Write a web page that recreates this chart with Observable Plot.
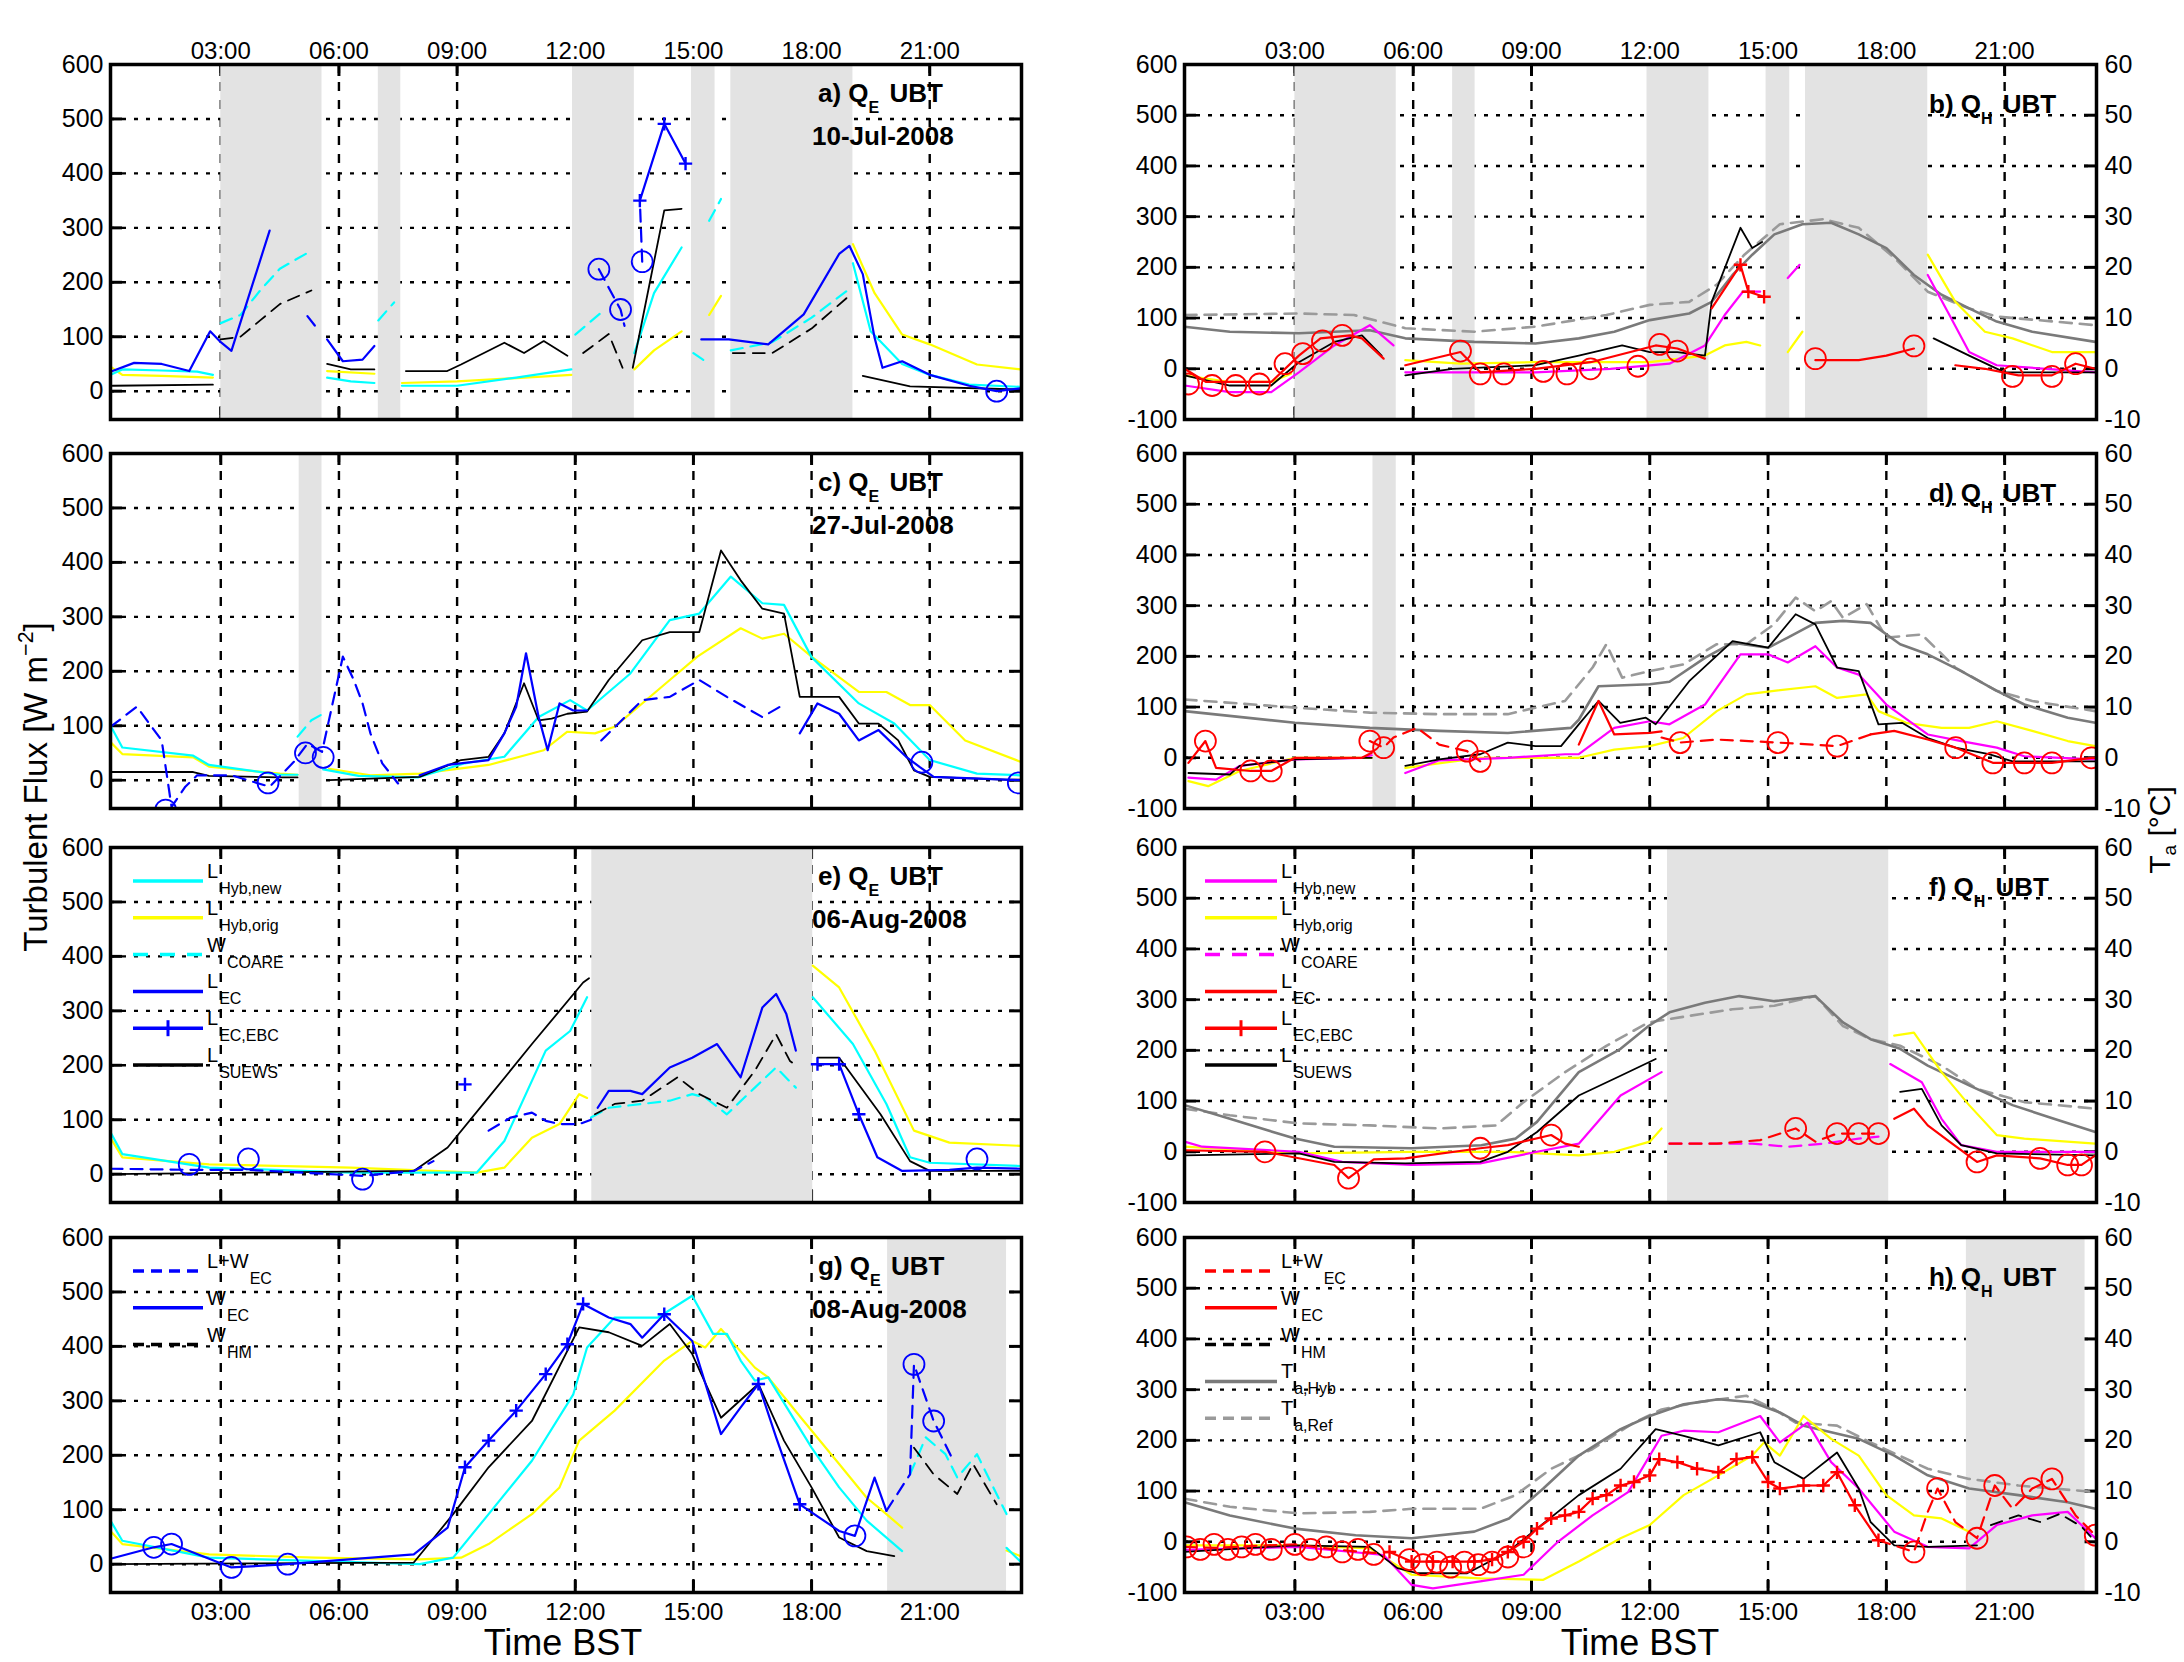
<!DOCTYPE html>
<html><head><meta charset="utf-8">
<script src="https://cdn.jsdelivr.net/npm/d3@7"></script>
<script src="https://cdn.jsdelivr.net/npm/@observablehq/plot@0.6"></script>
<style>
html,body{margin:0;padding:0;background:#fff;}
#root{position:relative;width:2184px;height:1662px;overflow:hidden;background:#fff;}
.panel{position:absolute;}
</style></head>
<body><div id="root"></div>
<script>
// ---------- tick labels / categories ----------
const HOURS = [3,6,9,12,15,18,21];
const HOUR_LABELS = ["03:00","06:00","09:00","12:00","15:00","18:00","21:00"];
const FLUX_TICKS_L = [0,100,200,300,400,500,600];
const FLUX_TICKS_R = [-100,0,100,200,300,400,500,600];
const TEMP_TICKS = [-10,0,10,20,30,40,50,60];
const DATES = ["10-Jul-2008","27-Jul-2008","06-Aug-2008","08-Aug-2008"];

// ---------- panel a (Q_E, 10-Jul-2008) ----------
const aShade = [[3.0,5.57],[7.0,7.57],[11.93,13.5],[14.95,15.55],[15.95,19.05]];
const aLhybNew = [[0.2,30],[0.5,40],[1.5,38],[2.4,36],[2.8,30],[3,null],[5.7,25],[6.3,18],[6.9,15],[7.2,null],[7.6,10],[9,10],[10.5,25],[11.9,40],[12.5,null],[13.5,70],[14,180],[14.7,264],[15,null],[19.05,235],[19.5,110],[20.3,50],[21,30],[22,12],[23.3,8]];
const aLhybOrig = [[0.2,45],[0.5,30],[1.5,28],[2.8,25],[3,null],[5.7,37],[6.9,32],[7.2,null],[7.6,15],[9,18],[10.5,24],[11.9,30],[12.5,null],[13.5,40],[14,75],[14.7,110],[15,null],[15.4,140],[15.7,175],[16,null],[19.05,270],[19.6,180],[20.3,104],[21,86],[22.2,49],[23.3,40]];
const aWcoare = [[3.0,125],[3.5,140],[4.0,185],[4.5,225],[5.3,258],[5.6,null],[7.0,130],[7.4,163],[7.6,null],[12.0,104],[12.7,147],[12.9,null],[15.0,70],[15.3,55],[15.35,null],[15.4,313],[15.7,353],[15.8,null],[15.95,75],[17,90],[18,135],[19,190]];
const aLsuews = [[0.25,10],[2.8,12],[3,null],[5.7,50],[6.3,40],[6.9,40],[7.2,null],[7.7,37],[8.75,37],[9.1,49],[10.2,89],[10.7,70],[11.2,92],[11.8,65],[12.2,null],[13.46,43],[14.26,332],[14.7,335],[15,null],[19.3,28],[20.5,9],[23.3,3]];
const aWhm = [[3.0,95],[3.5,100],[4.0,130],[4.5,160],[5.3,185],[5.6,null],[12.2,70],[12.85,105],[13.2,43],[13.4,null],[16.0,70],[17,70],[18,115],[19,178]];
const aLec = [[0.25,37],[0.8,52],[1.5,50],[2.2,37],[2.73,110],[3.0,90],[3.27,74],[4.24,295],[4.4,null],[5.7,95],[6.1,55],[6.6,58],[6.9,83],[7.1,null],[15.2,95],[15.9,95],[16.9,86],[17.8,141],[18.7,252],[18.96,267],[19.3,215],[19.6,98],[19.8,43],[20.3,55],[21,30],[22,10],[22.7,0],[23.3,5]];
const aLWec = [[5.2,138],[5.5,110],[5.6,null],[12.6,224],[12.85,190],[13.15,150],[13.25,120],[13.4,null],[13.7,238],[13.64,350]];
const aLecEbc = [[13.64,350],[14.26,491],[14.8,418]];
const aEcCircles = [[12.6,224],[13.15,150],[13.7,238],[22.7,0]];

// ---------- panel b (Q_H, 10-Jul-2008) ----------
const bShade = aShade;
const bThyb = [[0.2,83],[1.35,73],[3.1,70],[4.9,76],[5.8,60],[7.55,53],[9.1,50],[10.2,60],[11.1,73],[12.0,96],[13.0,109],[13.57,132],[14.1,185],[14.6,225],[15.16,265],[15.87,285],[16.6,288],[17.3,265],[18.0,238],[18.7,185],[19.4,146],[20.1,119],[20.8,93],[21.7,73],[23.3,53]];
const bTref = [[0.2,106],[3.1,109],[4.5,106],[5.8,80],[7.55,73],[9.1,83],[10.9,106],[12.0,126],[13.0,132],[13.7,166],[14.4,225],[15.3,285],[16.4,295],[17.3,278],[18.2,219],[19.05,152],[20.1,119],[20.8,103],[23.3,86]];
const bLsuews = [[0.2,-13],[1.35,-33],[2.4,-33],[3.1,13],[4.0,53],[4.7,66],[5.2,26],[5.5,null],[5.8,-13],[7.0,0],[9.1,7],[10.2,26],[11.3,46],[12.0,33],[12.7,33],[13.4,26],[13.57,132],[14.3,278],[14.6,238],[14.85,250],[15,null],[19.2,60],[20.1,26],[21.0,-7],[23.3,-7]];
const bLhybNew = [[0.2,-33],[1.35,-46],[2.4,-46],[3.1,-7],[4.0,46],[4.9,86],[5.5,46],[5.6,null],[5.8,-7],[7.5,-7],[9.1,-7],[11,0],[12.5,10],[13.4,46],[13.9,106],[14.36,152],[14.8,152],[15,null],[15.5,179],[15.8,205],[16,null],[19.05,185],[19.6,106],[20.1,33],[20.8,7],[23.3,-7]];
const bLhybOrig = [[0.2,-13],[1.35,-26],[2.4,-26],[2.9,-10],[3,null],[5.8,17],[7.2,10],[9.1,13],[12.0,13],[13.4,26],[13.9,46],[14.45,53],[14.8,46],[15,null],[15.5,33],[15.87,73],[16,null],[19.05,225],[19.75,132],[20.5,73],[21.2,60],[22.2,33],[23.3,33]];
const bLec = [[0.2,0],[0.75,-26],[2.4,-26],[3.1,26],[3.65,60],[4.4,66],[4.7,60],[5.25,20],[5.4,null],[5.8,7],[7.2,33],[7.7,-7],[9.1,0],[10.5,13],[12.15,46],[12.7,40],[13.4,20],[13.5,null],[13.57,119],[14.3,205],[14.5,152],[14.9,142],[15,null],[16.2,17],[17.3,17],[18.0,26],[18.7,40],[19,null],[19.75,7],[20.5,0],[21.35,-13],[22.2,-13],[22.8,10],[23.3,0]];
const bPlus = [[14.3,205],[14.5,152],[14.9,142]];
const bEcCircles = [[0.3,-30],[0.9,-33],[1.5,-33],[2.1,-30],[2.75,10],[3.2,30],[3.7,55],[4.2,66],[7.2,35],[7.7,-10],[8.3,-10],[9.3,-5],[9.9,-10],[10.5,0],[11.7,5],[12.25,48],[12.7,35],[16.2,20],[18.7,45],[21.2,-15],[22.2,-15],[22.8,10]];

// ---------- panel c (Q_E, 27-Jul-2008) ----------
const cShade = [[4.99,5.57]];
const cLhybNew = [[0.2,100],[0.5,60],[2.3,45],[2.7,28],[4.5,10],[4.95,10],[5,null],[5.6,20],[6.5,8],[8,5],[9.2,31],[10.2,43],[11.07,116],[11.87,147],[12.3,128],[13.4,196],[14.4,294],[15.15,306],[15.95,374],[16.75,325],[17.3,322],[18,226],[19.2,141],[20.1,104],[21,37],[22.2,12],[23.3,9]];
const cWcoare = [[4.95,80],[5.3,110],[5.55,120]];
const cLhybOrig = [[0.2,70],[0.5,48],[2.3,42],[2.7,25],[4.5,12],[4.95,10],[5,null],[5.75,21],[6.8,9],[8.05,12],[9.8,28],[11.2,55],[11.8,89],[12.5,86],[13,98],[14.4,184],[15.1,227],[16.2,279],[16.75,260],[17.3,269],[18,227],[19.2,162],[19.9,162],[20.5,138],[21,138],[21.9,73],[23.3,34]];
const cLsuews = [[0.2,15],[2.3,15],[2.7,8],[4.5,5],[4.95,5],[5,null],[5.75,0],[8.05,6],[9.1,37],[9.8,43],[10.2,86],[10.7,178],[11.07,110],[11.4,113],[11.8,122],[12.3,126],[12.85,184],[13.7,257],[14.4,272],[15.15,272],[15.7,422],[16.2,367],[16.75,315],[17.3,306],[17.7,153],[18.7,153],[19.2,104],[19.7,104],[20.2,73],[20.6,18],[21,6],[23.3,0]];
const cLWec = [[0.2,98],[0.87,135],[1.5,73],[1.75,-49],[2.1,-12],[2.4,9],[3.27,9],[4.24,-12],[4.86,34],[5.2,67],[5.57,52],[6.1,227],[6.37,185],[6.6,141],[6.8,86],[7.1,31],[7.5,-6],[7.7,null],[12.66,73],[13.7,147],[14.4,153],[15.15,184],[15.85,153],[16.75,116],[17.2,135]];
const cLec = [[8.05,9],[8.76,28],[9.8,37],[10.2,86],[10.5,135],[10.75,233],[11.07,116],[11.3,55],[11.6,141],[11.95,128],[12.3,128],[12.5,null],[17.7,86],[18.15,141],[18.7,122],[19.2,73],[19.7,92],[20.4,43],[20.75,24],[21.1,6],[23.3,0]];
const cEcCircles = [[1.6,-55],[4.2,-5],[5.15,50],[5.6,42],[20.8,33],[23.25,-5]];

// ---------- panel d (Q_H, 27-Jul-2008) ----------
const dShade = [[4.98,5.57]];
const dThyb = [[0.2,92],[3.0,69],[4.9,59],[6.66,53],[8.4,49],[10.0,59],[10.2,75],[10.7,141],[12.0,145],[12.5,150],[13.4,197],[14.1,227],[15.0,217],[15.5,237],[16.2,266],[16.9,270],[17.6,266],[18.35,224],[19.05,204],[19.9,171],[20.8,132],[21.5,105],[22.6,79],[23.3,69]];
const dTref = [[0.2,115],[3.0,99],[4.9,89],[6.66,86],[8.4,86],[9.85,112],[10.55,178],[10.9,224],[11.3,158],[12.0,171],[12.85,184],[13.7,224],[14.45,224],[15.15,263],[15.7,316],[16.2,289],[16.6,309],[16.9,276],[17.5,303],[18.0,237],[18.9,243],[19.75,178],[20.8,132],[21.7,112],[23.3,92]];
const dLsuews = [[0.3,-30],[1.35,-33],[1.6,-16],[3.0,-3],[4.7,0],[4.95,0],[5,null],[5.8,-16],[6.66,-3],[7.7,7],[8.4,30],[9.1,23],[9.75,23],[10.2,66],[10.7,112],[11.25,69],[11.9,79],[12.15,66],[13.0,151],[14.1,230],[15.0,217],[15.7,283],[16.2,263],[16.75,178],[17.3,171],[17.8,66],[18.4,69],[19.05,39],[19.75,20],[20.6,7],[21.2,-7],[23.3,-7]];
const dLhybNew = [[0.3,-39],[1.0,-43],[1.6,-16],[3.0,-3],[4.7,0],[4.95,5],[5,null],[5.8,-30],[6.66,-5],[8.4,0],[9.85,7],[10.2,7],[11.1,59],[12.0,72],[12.5,66],[13.4,105],[14.3,204],[15.0,204],[15.5,188],[16.2,220],[16.75,178],[17.3,164],[18.0,105],[19.05,46],[19.9,33],[20.8,20],[21.5,3],[23.3,-3]];
const dLhybOrig = [[0.3,-46],[0.8,-56],[1.6,-26],[3.0,0],[4.95,0],[5,null],[5.8,-20],[7.7,0],[10.2,0],[11.1,16],[12.0,23],[12.85,39],[13.7,92],[14.45,125],[15.15,132],[16.2,141],[16.75,118],[17.5,125],[17.8,92],[18.5,69],[19.4,59],[20.1,59],[20.8,72],[21.7,53],[22.6,33],[23.3,23]];
const dLec = [[0.3,-10],[0.73,33],[1.0,-20],[1.88,-26],[2.4,-26],[3.0,0],[4.7,0],[4.95,10],[5,null],[10.2,26],[10.7,112],[11.1,46],[12.0,49],[12.3,52],[12.5,null],[17.6,46],[18.2,53],[19.05,36],[19.76,20],[20.7,-10],[21.5,-10],[22.2,-10],[23.2,0],[23.3,0]];
const dLWec = [[4.9,33],[5.25,20],[5.5,40],[6.1,59],[6.66,26],[7.37,13],[7.7,-7],[8.4,null],[12.3,40],[12.77,30],[13.7,36],[15.25,30],[16.75,23],[17.6,46]];
const dEcCircles = [[0.73,33],[1.88,-26],[2.4,-26],[4.9,33],[5.25,20],[7.37,13],[7.7,-7],[12.77,30],[15.25,30],[16.75,23],[19.76,20],[20.7,-10],[21.5,-10],[22.2,-10],[23.2,0]];

// ---------- panel e (Q_E, 06-Aug-2008) ----------
const eShade = [[12.42,18.03]];
const eLhybNew = [[0.2,77],[0.5,37],[2.7,12],[6.3,3],[9.5,3],[10.2,61],[11.25,227],[11.87,263],[12.3,325],[12.4,null],[18.03,325],[19.05,239],[19.9,129],[20.5,31],[21,21],[23.3,15]];
const eWcoare = [[12.4,104],[12.85,122],[13.7,129],[14.4,135],[14.97,147],[15.3,141],[15.85,110],[16.56,159],[17.1,196],[17.6,159]];
const eLhybOrig = [[0.2,67],[0.5,31],[2.7,18],[6.3,12],[9.5,3],[10.2,12],[10.9,67],[11.6,92],[12.1,147],[12.3,140],[12.4,null],[18.03,383],[18.7,343],[19.6,227],[20.6,80],[21.5,58],[23.3,52]];
const eLsuews = [[0.2,0],[7.9,6],[8.76,49],[9.8,141],[10.9,239],[12.2,352],[12.35,360],[12.4,null],[18.15,214],[18.7,214],[19.75,110],[20.5,24],[21,6],[23.3,6]];
const eWhm = [[12.5,110],[13.0,129],[13.7,135],[14.6,178],[15.15,147],[15.85,122],[16.56,190],[17.1,257],[17.45,208],[17.6,200]];
const eLec = [[12.57,122],[12.85,153],[13.4,153],[13.7,147],[14.4,196],[14.97,214],[15.6,239],[16.2,178],[16.75,306],[17.1,331],[17.36,294],[17.6,227],[17.7,null],[19.2,110],[19.67,31],[20.3,6],[21.5,8],[22.2,12],[23.3,10]];
const eLWec = [[0.2,10],[2.2,8],[3.7,8],[6.6,-3],[7.9,6],[8.4,24],[8.6,null],[9.8,80],[10.36,104],[10.9,113],[11.25,98],[11.6,92],[12.1,92],[12.4,100]];
const eLecEbc = [[9.2,165],[9.25,null],[18.15,202],[18.7,202],[19.2,110]];
const eEcCircles = [[2.2,18],[3.7,28],[6.6,-9],[22.2,28]];

// ---------- panel f (Q_H, 06-Aug-2008) ----------
const fShade = [[12.45,18.06]];
const fThyb = [[0.2,92],[1.35,65],[3.0,26],[4.0,10],[5.96,7],[7.73,13],[8.6,26],[9.14,59],[10.2,157],[11.26,203],[11.97,248],[12.5,275],[13.4,294],[14.27,307],[15.16,297],[16.2,307],[16.9,255],[17.6,222],[18.35,203],[19.05,170],[20.1,131],[21.2,92],[22.25,65],[23.3,39]];
const fTref = [[0.2,85],[1.35,72],[3.1,56],[4.9,52],[6.66,46],[8.1,52],[8.8,98],[9.85,157],[10.9,209],[11.97,255],[13.0,268],[14.1,281],[15.16,288],[16.2,307],[16.9,248],[17.6,222],[18.35,209],[19.4,170],[20.3,124],[21.5,98],[23.3,85]];
const fLsuews = [[0.2,-7],[3.1,-3],[4.0,-20],[5.8,-23],[7.7,-20],[8.4,0],[9.14,39],[10.2,111],[11.26,150],[12.15,183],[12.3,null],[18.35,118],[18.9,124],[19.4,52],[19.9,13],[20.8,-3],[23.3,-7]];
const fLhybNew = [[0.2,20],[0.65,10],[3.1,0],[4.2,-20],[5.96,-26],[7.7,-23],[9.14,0],[10.2,16],[11.26,111],[12.3,157],[12.4,null],[18.1,173],[18.9,137],[19.4,65],[19.9,13],[20.8,0],[23.3,0]];
const fLhybOrig = [[0.2,10],[3.1,-3],[5.96,0],[8.4,0],[10.2,-7],[11.1,0],[12.0,20],[12.3,46],[12.4,null],[18.2,229],[18.7,235],[19.4,157],[20.1,92],[20.8,33],[21.5,26],[23.3,16]];
const fWcoare = [[12.5,16],[14.6,16],[15.5,10],[16.4,16],[17.3,26],[17.8,30]];
const fLec = [[0.2,3],[2.24,0],[4.0,-26],[4.36,-52],[5.0,-15],[5.8,-13],[7.7,7],[8.4,13],[9.5,33],[9.85,16],[10.2,10],[10.5,null],[18.2,65],[18.7,85],[19.05,52],[19.6,20],[20.3,-20],[20.8,-7],[21.9,-13],[22.6,-26],[22.95,-26],[23.3,-7]];
const fLWec = [[12.5,16],[13.7,16],[14.8,23],[15.7,46],[16.2,20],[16.75,36],[17.3,36],[17.8,36]];
const fEcCircles = [[2.24,0],[4.36,-52],[7.7,7],[9.5,33],[15.7,46],[16.75,36],[17.3,36],[17.8,36],[20.3,-20],[21.9,-13],[22.6,-26],[22.95,-26]];

// ---------- panel g (Q_E, 08-Aug-2008) ----------
const gShade = [[19.93,22.95]];
const gLhybOrig = [[0.2,61],[0.5,37],[2.7,18],[5.4,12],[8.05,9],[9.1,12],[9.8,37],[10.9,92],[11.6,141],[12.1,227],[13.0,282],[14.26,374],[14.97,410],[15.3,398],[15.7,432],[16.56,361],[16.9,343],[17.8,263],[18.7,184],[19.4,122],[19.9,92],[20.3,67],[20.4,null],[22.95,25],[23.3,15]];
const gLhybNew = [[0.2,80],[0.5,43],[2.7,12],[8.05,0],[8.9,12],[9.8,92],[10.9,190],[11.95,312],[12.3,398],[13.0,453],[14.1,453],[14.97,493],[15.5,423],[15.85,423],[16.2,374],[16.56,337],[16.9,343],[18.0,214],[18.7,141],[19.4,80],[20.3,24],[20.4,null],[22.95,30],[23.3,5]];
const gWcoare = [[20.5,165],[20.9,233],[21.4,202],[21.7,159],[22.2,202],[22.95,92]];
const gLsuews = [[0.2,0],[7.9,3],[8.9,92],[9.8,178],[10.9,263],[12.1,435],[12.85,426],[13.7,401],[14.4,441],[14.97,386],[15.7,269],[16.65,331],[17.3,227],[18.0,141],[18.7,49],[19.4,24],[20.1,15]];
const gWhm = [[20.6,214],[21.1,165],[21.7,129],[22.1,184],[22.7,110]];
const gWec = [[0.2,10],[1.3,31],[1.75,37],[3.27,-6],[4.7,0],[7.9,18],[8.76,67],[9.2,178],[9.8,227],[10.5,282],[11.25,349],[11.8,404],[12.2,478],[12.85,453],[13.4,441],[13.7,416],[14.26,459],[14.97,410],[15.7,239],[16.2,288],[16.65,331],[17.1,233],[17.7,110],[18.7,61],[19.1,52],[19.6,159],[19.9,98]];
const gLWec = [[19.9,98],[20.5,165],[20.6,367],[21.1,263],[21.6,190]];
const gPlus = [[9.2,178],[9.8,227],[10.5,282],[11.25,349],[11.8,404],[12.2,478],[14.26,459],[16.65,331],[17.7,110]];
const gEcCircles = [[1.3,31],[1.75,37],[3.27,-6],[4.7,0],[19.1,52],[20.6,367],[21.1,263]];

// ---------- panel h (Q_H, 08-Aug-2008) ----------
const hShade = [[20.03,23.04]];
const hThyb = [[0.2,78],[1.35,52],[3.0,26],[4.54,13],[5.96,7],[7.55,20],[8.43,46],[9.3,105],[10.2,170],[11.26,222],[12.0,248],[12.86,271],[13.74,281],[14.6,275],[15.3,255],[15.9,229],[16.6,216],[17.3,203],[18.2,170],[19.05,131],[20.1,105],[21.35,92],[22.6,78],[23.3,65]];
const hTref = [[0.2,85],[1.35,69],[3.1,56],[4.9,59],[5.96,65],[7.7,65],[8.6,92],[9.5,144],[10.55,183],[11.6,235],[12.3,261],[13.2,275],[14.45,288],[15.16,261],[15.7,235],[16.75,229],[17.6,196],[19.05,144],[20.1,124],[21.35,111],[23.3,98]];
const hLsuews = [[0.2,-20],[3.0,-7],[4.9,-10],[5.6,-52],[6.1,-62],[7.37,-62],[8.4,-20],[9.14,26],[10.2,92],[11.26,144],[12.15,222],[12.86,209],[13.74,190],[14.8,216],[15.16,157],[15.9,124],[16.75,176],[17.3,105],[17.6,39],[18.2,-7],[19.05,-10],[20.3,-7]];
const hWhm = [[20.65,33],[21.35,52],[21.9,39],[22.4,55],[22.95,30],[23.3,0]];
const hLhybNew = [[0.2,-16],[3.1,-10],[5.25,-26],[5.96,-85],[6.5,-92],[7.7,-78],[8.8,-65],[9.67,0],[10.55,52],[11.45,98],[12.3,209],[12.86,219],[13.74,216],[14.8,248],[15.3,196],[16.0,235],[16.6,157],[17.3,105],[18.2,20],[19.05,-10],[20.1,-13],[20.8,33],[21.7,52],[22.6,59],[23.3,7]];
const hLhybOrig = [[0.2,-7],[3.1,-7],[4.9,-13],[5.96,-65],[7.7,-72],[9.3,-75],[10.2,-39],[11.26,7],[12.0,33],[12.86,92],[13.74,131],[14.6,170],[14.9,196],[15.3,170],[15.9,248],[16.6,203],[17.3,170],[18.0,92],[18.7,52],[19.4,46],[20.1,20]];
const hLecEbc = [[5.4,-20],[5.96,-39],[6.5,-39],[7.0,-39],[7.55,-39],[8.0,-35],[8.4,-20],[8.8,0],[9.14,26],[9.5,46],[9.85,52],[10.2,59],[10.55,85],[10.9,92],[11.26,111],[11.6,118],[12.0,131],[12.24,163],[12.7,157],[13.2,144],[13.74,137],[14.2,163],[14.6,167],[15.0,118],[15.3,105],[15.9,111],[16.4,111],[16.75,137],[17.2,72],[17.8,3]];
const hLWec = [[0.2,-10],[1.0,-12],[2.0,-8],[3.0,-5],[4.0,-15],[5.0,-22],[5.4,-20],[5.5,null],[17.8,3],[18.7,-20],[19.05,59],[19.3,105],[19.75,39],[20.3,7],[20.75,111],[21.2,65],[21.7,105],[22.2,124],[22.8,52],[23.3,13]];
const hEcCircles = [[0.25,-10],[0.6,-15],[0.95,-5],[1.3,-15],[1.65,-10],[2.0,-5],[2.4,-15],[3.0,-5],[3.4,-15],[3.8,-10],[4.2,-20],[4.6,-15],[5.0,-25],[5.9,-35],[6.25,-45],[6.6,-40],[6.95,-50],[7.3,-40],[7.65,-45],[8.0,-40],[8.4,-30],[8.8,-10],[18.7,-20],[19.3,105],[20.3,7],[20.75,111],[21.7,105],[22.2,124],[23.3,13]];

// ---------- styling ----------
const FONT = '"Liberation Sans", Arial, Helvetica, sans-serif';
const COL = {cyan:"#00ffff", yellow:"#ffff00", blue:"#0000ff", black:"#000000", magenta:"#ff00ff", red:"#ff0000", grayS:"#7a7a7a", grayD:"#9a9a9a"};
const DASH = "12,8";
const ROW_TOPS = [64, 453, 847, 1237];
const PANEL_H = 355;
const X_DOMAIN = [0.2, 23.33];

const PLUS = {draw(ctx, size) { const r = Math.sqrt(size) / 2.4; ctx.moveTo(-r, 0); ctx.lineTo(r, 0); ctx.moveTo(0, -r); ctx.lineTo(0, r); }};

const L = (data, stroke, o = {}) => ({data, stroke, ...o});

const panels = [
  {id:"a", side:"left", row:0, shade:aShade, xAxis:"top", series:[
    L(aLhybOrig, COL.yellow), L(aLhybNew, COL.cyan), L(aWcoare, COL.cyan, {dash:DASH}),
    L(aWhm, COL.black, {dash:DASH, width:1.8}), L(aLsuews, COL.black, {width:1.8}),
    L(aLec, COL.blue), L(aLWec, COL.blue, {dash:DASH}), L(aLecEbc, COL.blue, {plus:aLecEbc}),
    L(aEcCircles, COL.blue, {noLine:true, circles:aEcCircles})]},
  {id:"b", side:"right", row:0, shade:bShade, xAxis:"top", series:[
    L(bTref, COL.grayD, {dash:DASH, width:2.6}), L(bThyb, COL.grayS, {width:2.6}),
    L(bLhybOrig, COL.yellow), L(bLhybNew, COL.magenta), L(bLsuews, COL.black, {width:1.8}),
    L(bLec, COL.red, {plus:bPlus}), L(bEcCircles, COL.red, {noLine:true, circles:bEcCircles})]},
  {id:"c", side:"left", row:1, shade:cShade, series:[
    L(cLhybOrig, COL.yellow), L(cLhybNew, COL.cyan), L(cWcoare, COL.cyan, {dash:DASH}),
    L(cLsuews, COL.black, {width:1.8}), L(cLWec, COL.blue, {dash:DASH}), L(cLec, COL.blue),
    L(cEcCircles, COL.blue, {noLine:true, circles:cEcCircles})]},
  {id:"d", side:"right", row:1, shade:dShade, series:[
    L(dTref, COL.grayD, {dash:DASH, width:2.6}), L(dThyb, COL.grayS, {width:2.6}),
    L(dLhybOrig, COL.yellow), L(dLhybNew, COL.magenta), L(dLsuews, COL.black, {width:1.8}),
    L(dLec, COL.red), L(dLWec, COL.red, {dash:DASH}), L(dEcCircles, COL.red, {noLine:true, circles:dEcCircles})]},
  {id:"e", side:"left", row:2, shade:eShade, series:[
    L(eLhybOrig, COL.yellow), L(eLhybNew, COL.cyan), L(eWcoare, COL.cyan, {dash:DASH}),
    L(eLsuews, COL.black, {width:1.8}), L(eWhm, COL.black, {dash:DASH, width:1.8}),
    L(eLec, COL.blue), L(eLWec, COL.blue, {dash:DASH}), L(eLecEbc, COL.blue, {plus:eLecEbc.filter(d => d[1] != null)}),
    L(eEcCircles, COL.blue, {noLine:true, circles:eEcCircles})]},
  {id:"f", side:"right", row:2, shade:fShade, series:[
    L(fTref, COL.grayD, {dash:DASH, width:2.6}), L(fThyb, COL.grayS, {width:2.6}),
    L(fLhybOrig, COL.yellow), L(fLhybNew, COL.magenta), L(fWcoare, COL.magenta, {dash:DASH}),
    L(fLsuews, COL.black, {width:1.8}), L(fLec, COL.red), L(fLWec, COL.red, {dash:DASH}),
    L(fEcCircles, COL.red, {noLine:true, circles:fEcCircles})]},
  {id:"g", side:"left", row:3, shade:gShade, xAxis:"bottom", series:[
    L(gLhybOrig, COL.yellow), L(gLhybNew, COL.cyan), L(gWcoare, COL.cyan, {dash:DASH}),
    L(gLsuews, COL.black, {width:1.8}), L(gWhm, COL.black, {dash:DASH, width:1.8}),
    L(gWec, COL.blue, {plus:gPlus}), L(gLWec, COL.blue, {dash:DASH}),
    L(gEcCircles, COL.blue, {noLine:true, circles:gEcCircles})]},
  {id:"h", side:"right", row:3, shade:hShade, xAxis:"bottom", series:[
    L(hTref, COL.grayD, {dash:DASH, width:2.6}), L(hThyb, COL.grayS, {width:2.6}),
    L(hLhybOrig, COL.yellow), L(hLhybNew, COL.magenta), L(hLsuews, COL.black, {width:1.8}),
    L(hWhm, COL.black, {dash:DASH, width:1.8}), L(hLWec, COL.red, {dash:DASH}),
    L(hLecEbc, COL.red, {plus:hLecEbc}), L(hEcCircles, COL.red, {noLine:true, circles:hEcCircles})]}
];

const root = document.getElementById("root");

for (const p of panels) {
  const geo = p.side === "left" ? {left:0, width:1060, ml:110, mr:39} : {left:1100, width:1084, ml:84, mr:88};
  const mt = 64, mb = 72;
  const innerW = geo.width - geo.ml - geo.mr;
  const yTicks = p.side === "left" ? FLUX_TICKS_L : FLUX_TICKS_R;
  const yDomain = p.side === "left" ? [-52, 600] : [-100, 600];
  const X = d => d[0], Y = d => d[1];
  const marks = [
    Plot.gridY(yTicks, {stroke:"#000", strokeOpacity:1, strokeWidth:2.4, strokeDasharray:"4,8"}),
    Plot.gridX(HOURS, {stroke:"#000", strokeOpacity:1, strokeWidth:2.4, strokeDasharray:"9,9"}),
    Plot.tickY(yTicks, {y:d => d, stroke:"#000", strokeWidth:3, insetRight: innerW - 12}),
    Plot.tickY(yTicks, {y:d => d, stroke:"#000", strokeWidth:3, insetLeft: innerW - 12}),
    Plot.tickX(HOURS, {x:d => d, stroke:"#000", strokeWidth:3, insetBottom: PANEL_H - 12}),
    Plot.tickX(HOURS, {x:d => d, stroke:"#000", strokeWidth:3, insetTop: PANEL_H - 12}),
    Plot.rect(p.shade, {x1:d => d[0], x2:d => d[1], fill:"#e3e3e3"})
  ];
  for (const s of p.series) {
    if (!s.noLine) marks.push(Plot.line(s.data, {x:X, y:Y, stroke:s.stroke, strokeWidth:s.width || 2.2, strokeDasharray:s.dash, clip:true}));
    if (s.circles) marks.push(Plot.dot(s.circles, {x:X, y:Y, r:10.5, stroke:s.stroke, fill:"none", strokeWidth:1.8, clip:true}));
    if (s.plus) marks.push(Plot.dot(s.plus, {x:X, y:Y, r:9, symbol:PLUS, stroke:s.stroke, fill:"none", strokeWidth:2.4, clip:true}));
  }
  marks.push(Plot.frame({stroke:"#000", strokeWidth:3.5}));
  marks.push(Plot.axisY({ticks:yTicks, anchor:"left", tickSize:0, tickPadding:7, tickFormat:d => String(d), fontSize:25}));
  if (p.side === "right") {
    marks.push(Plot.axisY({ticks:yTicks, anchor:"right", tickSize:0, tickPadding:8, tickFormat:d => String(TEMP_TICKS[FLUX_TICKS_R.indexOf(d)]), fontSize:25}));
  }
  if (p.xAxis) {
    marks.push(Plot.axisX({ticks:HOURS, anchor:p.xAxis, tickSize:0, tickPadding:p.xAxis === "top" ? 6 : 10, tickFormat:h => HOUR_LABELS[HOURS.indexOf(h)], fontSize:24}));
  }
  const chart = Plot.plot({
    width: geo.width, height: mt + PANEL_H + mb,
    marginTop: mt, marginBottom: mb, marginLeft: geo.ml, marginRight: geo.mr,
    x: {domain: X_DOMAIN, axis: p.xAxis ? undefined : null},
    y: {domain: yDomain},
    style: {background:"transparent", overflow:"visible", fontFamily:FONT, fontSize:"25px", color:"#000", maxWidth:"none"},
    marks
  });
  const div = document.createElement("div");
  div.className = "panel";
  div.style.left = geo.left + "px";
  div.style.top = (ROW_TOPS[p.row] - mt) + "px";
  div.style.width = geo.width + "px";
  div.appendChild(chart);
  root.appendChild(div);
}

// ---------- overlay: panel labels, legends, axis titles ----------
const ov = d3.select("#root").append("svg")
  .attr("width", 2184).attr("height", 1662)
  .style("position", "absolute").style("left", 0).style("top", 0)
  .style("font-family", FONT).style("pointer-events", "none");

function rich(x, y, parts, opt) {
  const t = ov.append("text").attr("x", x).attr("y", y)
    .attr("font-size", opt.size).attr("font-weight", opt.weight || "normal")
    .attr("text-anchor", opt.anchor || "start").attr("fill", "#000").style("white-space", "pre");
  if (opt.rotate) t.attr("transform", `rotate(${opt.rotate},${x},${y})`);
  let shift = 0;
  for (const p of parts) {
    let target = 0, size = opt.size;
    if (p.sub) { target = opt.subDy ?? opt.size * 0.45; size = opt.subSize ?? opt.size * 0.7; }
    if (p.sup) { target = -opt.size * 0.42; size = opt.size * 0.65; }
    const ts = t.append("tspan").text(p.t).attr("font-size", size).attr("dy", target - shift);
    if (p.dx) ts.attr("dx", p.dx);
    shift = target;
  }
}

const LEFT_LABELS = [["a) Q","E"],["c) Q","E"],["e) Q","E"],["g) Q","E"]];
const RIGHT_LABELS = [["b) Q","H"],["d) Q","H"],["f) Q","H"],["h) Q","H"]];
ROW_TOPS.forEach((top, i) => {
  rich(818, top + 38, [{t:LEFT_LABELS[i][0]}, {t:LEFT_LABELS[i][1], sub:true}, {t:" UBT", dx:3}], {size:26, weight:"bold", subSize:16, subDy:11});
  rich(812, top + 81, [{t:DATES[i]}], {size:26, weight:"bold"});
  rich(1929, top + 49, [{t:RIGHT_LABELS[i][0]}, {t:RIGHT_LABELS[i][1], sub:true}, {t:" UBT", dx:3}], {size:26, weight:"bold", subSize:16, subDy:11});
});

const LEG_E = [
  {stroke:COL.cyan, main:"L", sub:"Hyb,new"}, {stroke:COL.yellow, main:"L", sub:"Hyb,orig"},
  {stroke:COL.cyan, dash:"15,12", main:"W", sub:"COARE"}, {stroke:COL.blue, main:"L", sub:"EC"},
  {stroke:COL.blue, plus:true, main:"L", sub:"EC,EBC"}, {stroke:COL.black, main:"L", sub:"SUEWS"}];
const LEG_F = [
  {stroke:COL.magenta, main:"L", sub:"Hyb,new"}, {stroke:COL.yellow, main:"L", sub:"Hyb,orig"},
  {stroke:COL.magenta, dash:"15,12", main:"W", sub:"COARE"}, {stroke:COL.red, main:"L", sub:"EC"},
  {stroke:COL.red, plus:true, main:"L", sub:"EC,EBC"}, {stroke:COL.black, main:"L", sub:"SUEWS"}];
const LEG_G = [
  {stroke:COL.blue, dash:"11,7", main:"L+W", sub:"EC"}, {stroke:COL.blue, main:"W", sub:"EC"},
  {stroke:COL.black, dash:"11,7", main:"W", sub:"HM"}];
const LEG_H = [
  {stroke:COL.red, dash:"11,7", main:"L+W", sub:"EC"}, {stroke:COL.red, main:"W", sub:"EC"},
  {stroke:COL.black, dash:"11,7", main:"W", sub:"HM"}, {stroke:COL.grayS, main:"T", sub:"a,Hyb"},
  {stroke:COL.grayD, dash:"11,7", main:"T", sub:"a,Ref"}];

function legend(entries, x0, x1, top) {
  entries.forEach((e, i) => {
    const y = top + 34 + i * 36.8;
    ov.append("line").attr("x1", x0).attr("x2", x1).attr("y1", y).attr("y2", y)
      .attr("stroke", e.stroke).attr("stroke-width", 3.5).attr("stroke-dasharray", e.dash || null);
    if (e.plus) {
      const xm = (x0 + x1) / 2;
      ov.append("line").attr("x1", xm).attr("x2", xm).attr("y1", y - 8).attr("y2", y + 8)
        .attr("stroke", e.stroke).attr("stroke-width", 3);
    }
    rich(x1 + 4, y - 3, [{t:e.main}, {t:e.sub, sub:true, dx:1}], {size:20, subSize:16, subDy:16});
  });
}
legend(LEG_E, 133, 203, ROW_TOPS[2]);
legend(LEG_F, 1205, 1277, ROW_TOPS[2]);
legend(LEG_G, 133, 203, ROW_TOPS[3]);
legend(LEG_H, 1205, 1277, ROW_TOPS[3]);

rich(47, 787, [{t:"Turbulent Flux [W m"}, {t:"−2", sup:true}, {t:"]"}], {size:33, anchor:"middle", rotate:-90});
rich(2170, 830, [{t:"T"}, {t:"a", sub:true}, {t:" [°C]"}], {size:30, anchor:"middle", rotate:-90, subSize:19, subDy:6});
rich(563, 1655, [{t:"Time BST"}], {size:36, anchor:"middle"});
rich(1640, 1655, [{t:"Time BST"}], {size:36, anchor:"middle"});
</script>
</body></html>
